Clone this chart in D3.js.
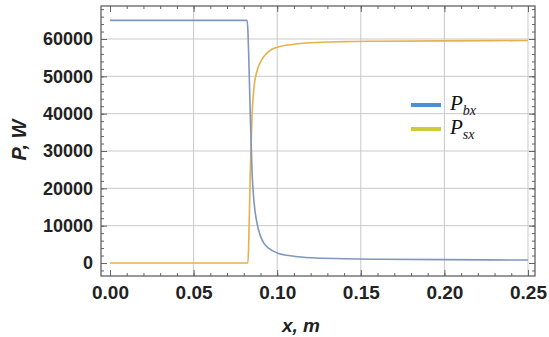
<!DOCTYPE html>
<html>
<head>
<meta charset="utf-8">
<script src="https://cdn.jsdelivr.net/npm/d3@7"></script>
<style>
  body { margin: 0; background: #fff; }
  svg { display: block; }
  .tick text { font-family: "Liberation Sans", Arial, sans-serif; font-weight: bold; fill: #222; }
</style>
</head>
<body>
<div id="chart"></div>
<script>
// data
var xs  = [0, 0.02, 0.04, 0.06, 0.08, 0.082, 0.0825, 0.083, 0.084, 0.085, 0.086, 0.088, 0.09, 0.092, 0.095, 0.1, 0.11, 0.12, 0.14, 0.16, 0.2, 0.25];
var pbx = [65000, 65000, 65000, 65000, 65000, 65000, 62000, 55000, 38000, 24000, 17000, 10500, 7200, 5300, 3900, 2700, 1800, 1400, 1150, 1000, 900, 800];
var psx = [0, 0, 0, 0, 0, 0, 0, 6000, 26000, 40000, 46500, 51500, 53800, 55300, 56700, 57800, 58600, 59000, 59300, 59400, 59500, 59600];
var xTicks = [0, 0.05, 0.10, 0.15, 0.20, 0.25];
var yTicks = [0, 10000, 20000, 30000, 40000, 50000, 60000];
var seriesNames = ["bx", "sx"];

var W = 549, H = 337;
var frame = { left: 101, right: 535, top: 6, bottom: 276 };

var svg = d3.select("#chart").append("svg")
    .attr("width", W)
    .attr("height", H);

var x = d3.scaleLinear().domain([0, 0.25]).range([110, 528]);
var y = d3.scaleLinear().domain([0, 60000]).range([263, 39]);

var xMinor = d3.range(0, 0.2501, 0.01);
var yMinor = d3.range(-2000, 68001, 2000);

// grid
svg.append("g").selectAll("line").data(xTicks.slice(1)).enter().append("line")
    .attr("x1", function (d) { return x(d); }).attr("x2", function (d) { return x(d); })
    .attr("y1", frame.top).attr("y2", frame.bottom)
    .attr("stroke", "#c9c9c9").attr("stroke-width", 1);
svg.append("g").selectAll("line").data(yTicks.slice(1)).enter().append("line")
    .attr("x1", frame.left).attr("x2", frame.right)
    .attr("y1", function (d) { return y(d); }).attr("y2", function (d) { return y(d); })
    .attr("stroke", "#c9c9c9").attr("stroke-width", 1);

// axes with inward ticks
function minorAxis(axis, scale, vals, pos) {
    var g = svg.append("g").attr("transform", pos)
        .call(axis(scale).tickValues(vals).tickSize(-3).tickFormat(""));
    g.select(".domain").remove();
    g.selectAll("line").attr("stroke", "#666");
}
minorAxis(d3.axisBottom, x, xMinor, "translate(0," + frame.bottom + ")");
minorAxis(d3.axisTop, x, xMinor, "translate(0," + frame.top + ")");
minorAxis(d3.axisLeft, y, yMinor, "translate(" + frame.left + ",0)");
minorAxis(d3.axisRight, y, yMinor, "translate(" + frame.right + ",0)");

var gx = svg.append("g").attr("transform", "translate(0," + frame.bottom + ")")
    .call(d3.axisBottom(x).tickValues(xTicks).tickSize(-6).tickPadding(10).tickFormat(d3.format(".2f")));
gx.select(".domain").remove();
gx.selectAll("line").attr("stroke", "#666");
gx.selectAll("text").style("font-size", "19px");

var gt = svg.append("g").attr("transform", "translate(0," + frame.top + ")")
    .call(d3.axisTop(x).tickValues(xTicks).tickSize(-6).tickFormat(""));
gt.select(".domain").remove();
gt.selectAll("line").attr("stroke", "#666");

var gy = svg.append("g").attr("transform", "translate(" + frame.left + ",0)")
    .call(d3.axisLeft(y).tickValues(yTicks).tickSize(-6).tickPadding(8).tickFormat(d3.format("d")));
gy.select(".domain").remove();
gy.selectAll("line").attr("stroke", "#666");
gy.selectAll("text").style("font-size", "18px");

var gr = svg.append("g").attr("transform", "translate(" + frame.right + ",0)")
    .call(d3.axisRight(y).tickValues(yTicks).tickSize(-6).tickFormat(""));
gr.select(".domain").remove();
gr.selectAll("line").attr("stroke", "#666");

svg.append("rect")
    .attr("x", frame.left).attr("y", frame.top)
    .attr("width", frame.right - frame.left).attr("height", frame.bottom - frame.top)
    .attr("fill", "none").attr("stroke", "#555").attr("stroke-width", 1.2);

// lines
function lineOf(vals) {
    return d3.line()
        .x(function (d, i) { return x(xs[i]); })
        .y(function (d) { return y(d); })
        .curve(d3.curveMonotoneX)(vals);
}
svg.append("path").attr("d", lineOf(psx))
    .attr("fill", "none").attr("stroke", "#e6b04e").attr("stroke-width", 1.6);
svg.append("path").attr("d", lineOf(pbx))
    .attr("fill", "none").attr("stroke", "#7f97bf").attr("stroke-width", 1.6);

// legend
var legColors = ["#4a8fd8", "#cccc3c"];
var leg = svg.append("g");
seriesNames.forEach(function (name, i) {
    var cy = 105 + i * 24;
    leg.append("line")
        .attr("x1", 411).attr("x2", 441)
        .attr("y1", cy).attr("y2", cy)
        .attr("stroke", legColors[i]).attr("stroke-width", 4);
    var t = leg.append("text")
        .attr("x", 450).attr("y", cy + 5)
        .style("font-family", "'Liberation Serif', 'Times New Roman', serif")
        .style("font-style", "italic")
        .style("font-size", "21px")
        .attr("fill", "#111");
    t.append("tspan").text("P");
    t.append("tspan").attr("dy", 5).style("font-size", "14px").text(name);
});

// axis titles
svg.append("text")
    .attr("x", 301).attr("y", 332)
    .attr("text-anchor", "middle")
    .style("font-family", "'Liberation Sans', Arial, sans-serif")
    .style("font-weight", "bold").style("font-style", "italic")
    .style("font-size", "19px").attr("fill", "#222")
    .text("x, m");

svg.append("text")
    .attr("transform", "translate(26,140) rotate(-90)")
    .attr("text-anchor", "middle")
    .style("font-family", "'Liberation Sans', Arial, sans-serif")
    .style("font-weight", "bold").style("font-style", "italic")
    .style("font-size", "20px").attr("fill", "#222")
    .text("P, W");
</script>
</body>
</html>
